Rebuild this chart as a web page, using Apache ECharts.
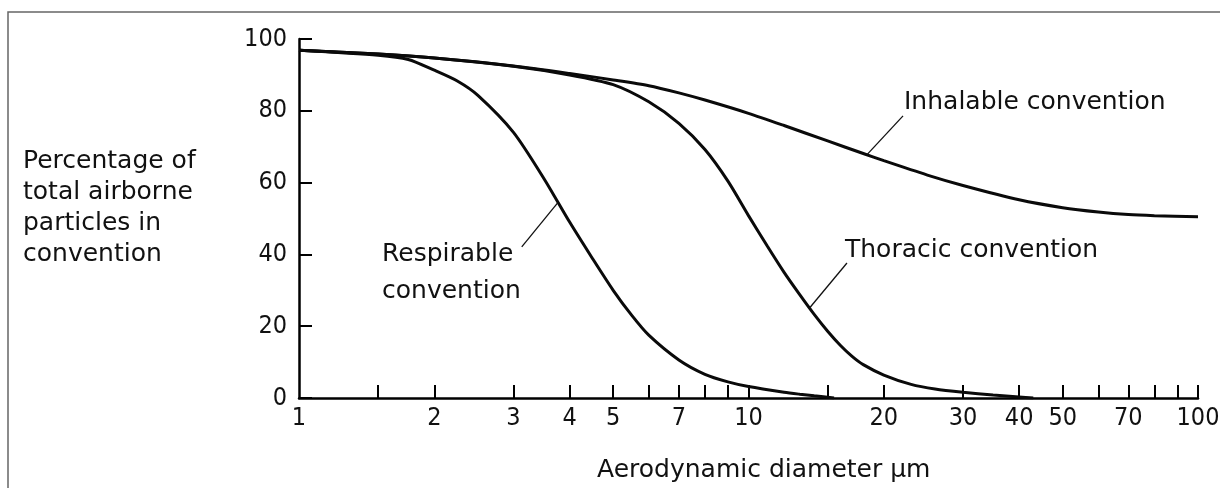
<!DOCTYPE html>
<html>
<head>
<meta charset="utf-8">
<script src="https://cdn.jsdelivr.net/npm/echarts@6/dist/echarts.min.js"></script>
<style>
    html, body { margin: 0; padding: 0; background: #fff; }
    #chart { width: 1220px; height: 488px; }
</style>
</head>
<body>
<div id="chart"></div>
<script>
// aerodynamic diameter (µm) and percentage
var inhalDiam = [1, 1.5, 2, 3, 4, 5, 6, 7, 8, 10, 12, 15, 18, 20, 25, 30, 40, 50, 60, 70, 80, 100];
var inhalPct  = [96.9, 95.8, 94.7, 92.5, 90.4, 88.6, 87.0, 85.0, 83.0, 79.3, 75.9, 71.6, 68.1, 66.1, 62.1, 59.2, 55.2, 53.0, 51.8, 51.1, 50.8, 50.5];

var thorDiam = [1, 1.5, 2, 3, 4, 5, 6, 7, 8, 9, 10, 11, 12, 13, 14, 15, 16, 17, 18, 20, 23, 26, 30, 35, 40, 43];
var thorPct  = [96.9, 95.8, 94.7, 92.4, 90.0, 87.3, 82.5, 76.5, 69.2, 60.4, 50.8, 42.4, 35.0, 28.8, 23.3, 18.6, 14.7, 11.6, 9.3, 6.4, 3.8, 2.5, 1.6, 0.85, 0.3, 0];

var respDiam = [1, 1.5, 1.75, 2, 2.25, 2.5, 3, 3.5, 4, 4.5, 5, 5.5, 6, 7, 8, 9, 10, 12, 13, 14, 15.5];
var respPct  = [96.9, 95.5, 94.3, 91.3, 88.3, 84.3, 74.0, 61.3, 49.0, 38.8, 30.0, 23.0, 17.5, 10.6, 6.6, 4.5, 3.2, 1.6, 1.05, 0.6, 0];

// axis ticks / labels
var xTickValues  = [1.5, 2, 3, 4, 5, 6, 7, 8, 9, 10, 15, 20, 30, 40, 50, 60, 70, 80, 90, 100];
var xLabelValues = [1, 2, 3, 4, 5, 7, 10, 20, 30, 40, 50, 70, 100];

// leader lines: [point on curve, end near the text]
var respLeader  = [[3.77, 54.5], [3.13, 42.1]];
var thorLeader  = [[13.7, 25.2], [16.56, 37.6]];
var inhalLeader = [[18.35, 67.8], [22.07, 78.6]];

var textFont = '25px "DejaVu Sans", sans-serif';
var tickFont = '"Liberation Sans Narrow", "DejaVu Sans Condensed", "DejaVu Sans", sans-serif';

function pairs(xs, ys) {
    return xs.map(function (x, i) { return [x, ys[i]]; });
}

function leader(pts) {
    return {
        silent: true,
        symbol: ['none', 'none'],
        label: { show: false },
        lineStyle: { color: '#111', width: 1.3, type: 'solid' },
        emphasis: { disabled: true },
        data: [[{ coord: pts[0] }, { coord: pts[1] }]]
    };
}

function curve(name, xs, ys, pts) {
    return {
        name: name,
        type: 'line',
        data: pairs(xs, ys),
        showSymbol: false,
        smooth: 0.25,
        lineStyle: { color: '#0a0a0a', width: 3 },
        emphasis: { disabled: true },
        markLine: leader(pts)
    };
}

var myChart = echarts.init(document.getElementById('chart'));

var option = {
    animation: false,
    backgroundColor: '#fff',
    grid: { left: 299, right: 22, top: 39, bottom: 90, containLabel: false, outerBoundsMode: 'none' },
    xAxis: {
        type: 'log',
        logBase: 10,
        min: 1,
        max: 100,
        axisLine: { show: true, lineStyle: { color: '#000', width: 2.5 } },
        axisTick: {
            show: true,
            inside: true,
            length: 13,
            customValues: xTickValues,
            lineStyle: { color: '#000', width: 2 }
        },
        minorTick: { show: false },
        splitLine: { show: false },
        axisLabel: {
            customValues: xLabelValues,
            margin: 8,
            color: '#111',
            fontSize: 25,
            fontFamily: tickFont
        }
    },
    yAxis: {
        type: 'value',
        min: 0,
        max: 100,
        interval: 20,
        axisLine: { show: true, lineStyle: { color: '#000', width: 2.5 } },
        axisTick: { show: true, inside: true, length: 13, lineStyle: { color: '#000', width: 2 } },
        splitLine: { show: false },
        axisLabel: { margin: 12, color: '#111', fontSize: 25, fontFamily: tickFont }
    },
    series: [
        curve('Inhalable convention', inhalDiam, inhalPct, inhalLeader),
        curve('Thoracic convention', thorDiam, thorPct, thorLeader),
        curve('Respirable convention', respDiam, respPct, respLeader)
    ],
    graphic: [
        // frame round the figure
        { type: 'rect', z: -1, shape: { x: 8, y: 12, width: 1240, height: 520 },
          style: { fill: 'none', stroke: '#666', lineWidth: 1.5 } },
        { type: 'text', left: 23, top: 146,
          style: { text: 'Percentage of\ntotal airborne\nparticles in\nconvention', font: textFont, fill: '#111', lineHeight: 31 } },
        { type: 'text', left: 904, top: 87,
          style: { text: 'Inhalable convention', font: textFont, fill: '#111', lineHeight: 30 } },
        { type: 'text', left: 845, top: 235,
          style: { text: 'Thoracic convention', font: textFont, fill: '#111', lineHeight: 30 } },
        { type: 'text', left: 382, top: 236,
          style: { text: 'Respirable\nconvention', font: textFont, fill: '#111', lineHeight: 37 } },
        { type: 'text', left: 597, top: 455,
          style: { text: 'Aerodynamic diameter µm', font: textFont, fill: '#111', lineHeight: 30 } }
    ]
};

myChart.setOption(option);
</script>
</body>
</html>
